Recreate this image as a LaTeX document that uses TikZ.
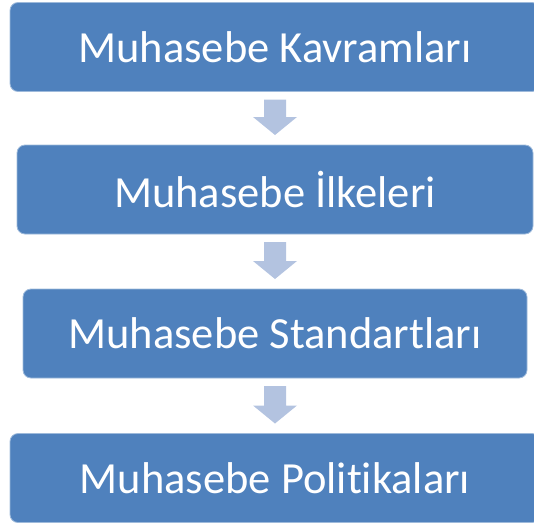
\documentclass[tikz,border=0pt]{standalone}
\usepackage{fontspec}
\setmainfont{Carlito}[Ligatures=NoCommon]
\usepackage{tikz}
\usetikzlibrary{calc}
\definecolor{boxblue}{HTML}{4F81BD}
\definecolor{arrowblue}{HTML}{B3C3E0}
\tikzset{
    stepbox/.style = {
        align=center,
        text centered,
        rectangle,
        rounded corners=8pt,
        fill=boxblue,
        draw=boxblue!55!white,
        line width=0.8pt,
        text=white,
        font=\fontsize{44.5}{53}\selectfont,
        minimum height=89pt,
        inner sep=0pt,
        outer sep=0pt
    },
    blockarrow/.style = {
        fill=arrowblue
    }
}
\begin{document}
\begin{tikzpicture}[x=1pt,y=-1pt]
    \useasboundingbox (0,0) rectangle (534,527);
    \node [stepbox, minimum width=530pt] (kavram) at (275,47) {Muhasebe Kavramları};
    \node [stepbox, minimum width=516pt] (ilke) at (275,189.5) {Muhasebe İlkeleri};
    \node [stepbox, minimum width=504pt] (standart) at (275,333.5) {Muhasebe Standartları};
    \node [stepbox, minimum width=530pt] (politika) at (275,478) {Muhasebe Politikaları};
    % arrows between the steps
    \foreach \a/\b in {kavram/ilke, ilke/standart, standart/politika}
        \fill [blockarrow] ($(\a.south)+(-11,8)$) -- ($(\a.south)+(11,8)$)
            -- ($(\b.north)+(11,-28)$) -- ($(\b.north)+(22,-28)$)
            -- ($(\b.north)+(0,-10)$)
            -- ($(\b.north)+(-22,-28)$) -- ($(\b.north)+(-11,-28)$) -- cycle;
\end{tikzpicture}
\end{document}
